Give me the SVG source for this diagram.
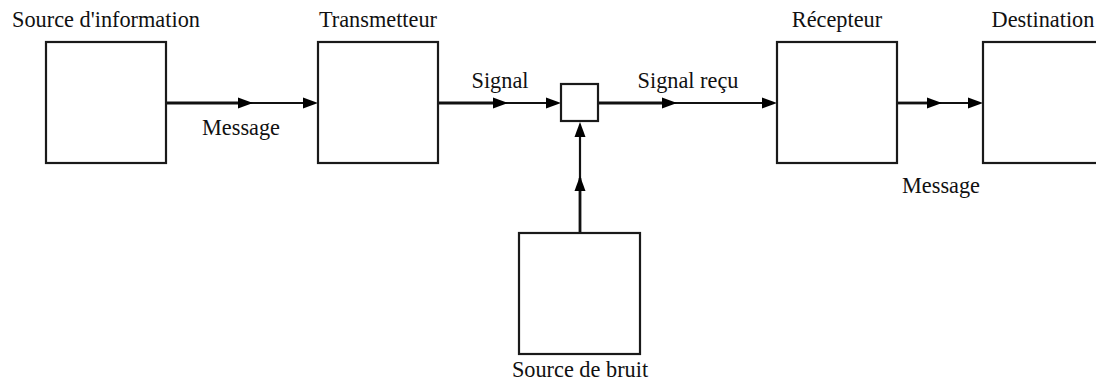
<svg xmlns="http://www.w3.org/2000/svg" xmlns:xlink="http://www.w3.org/1999/xlink" width="1096" height="389" viewBox="0 0 1096 389">
<style>
.box{fill:#fff;stroke:#1a1a1a;stroke-width:2.2}
.ln{stroke:#111;fill:none}
.thick{stroke-width:2.8}
.thin{stroke-width:2.2}
.ah{fill:#000}
text{font-family:"Liberation Serif","Times New Roman",serif;font-size:22.3px;fill:#111;text-anchor:middle}
</style>
<defs>
<path id="ah" d="M0,0 L-15,-5.5 L-15,5.5 Z"/>
</defs>
<rect width="1096" height="389" fill="#fff"/>
<g id="connectors">
<line class="ln thick" x1="166" y1="103" x2="240" y2="103"/>
<line class="ln thin" x1="240" y1="103" x2="304" y2="103"/>
<use xlink:href="#ah" class="ah" transform="translate(253,103)"/>
<use xlink:href="#ah" class="ah" transform="translate(318,103)"/>
<line class="ln thick" x1="438" y1="103" x2="495" y2="103"/>
<line class="ln thin" x1="495" y1="103" x2="547" y2="103"/>
<use xlink:href="#ah" class="ah" transform="translate(508,103)"/>
<use xlink:href="#ah" class="ah" transform="translate(561,103)"/>
<line class="ln thick" x1="598" y1="103" x2="664" y2="103"/>
<line class="ln thin" x1="664" y1="103" x2="763" y2="103"/>
<use xlink:href="#ah" class="ah" transform="translate(677,103)"/>
<use xlink:href="#ah" class="ah" transform="translate(777,103)"/>
<line class="ln thick" x1="897" y1="103" x2="929" y2="103"/>
<line class="ln thin" x1="929" y1="103" x2="969" y2="103"/>
<use xlink:href="#ah" class="ah" transform="translate(942,103)"/>
<use xlink:href="#ah" class="ah" transform="translate(983,103)"/>
<line class="ln thick" x1="580" y1="233" x2="580" y2="178"/>
<line class="ln thin" x1="580" y1="178" x2="580" y2="136"/>
<use xlink:href="#ah" class="ah" transform="translate(580,176) rotate(-90)"/>
<use xlink:href="#ah" class="ah" transform="translate(580,122) rotate(-90)"/>
<text x="241" y="135">Message</text>
<text x="500" y="88">Signal</text>
<text x="688" y="88">Signal reçu</text>
<text x="941" y="193">Message</text>
</g>
<g id="source">
<rect class="box" x="46" y="42" width="120" height="121"/>
<text x="106" y="27">Source d'information</text>
</g>
<g id="transmetteur">
<rect class="box" x="318" y="42" width="120" height="121"/>
<text x="378" y="27">Transmetteur</text>
</g>
<g id="canal">
<rect class="box" x="561" y="84" width="37" height="37"/>
</g>
<g id="recepteur">
<rect class="box" x="777" y="42" width="120" height="121"/>
<text x="837" y="27">Récepteur</text>
</g>
<g id="destination">
<rect class="box" x="983" y="42" width="120" height="121"/>
<text x="1043" y="27">Destination</text>
</g>
<g id="bruit">
<rect class="box" x="519" y="233" width="121" height="121"/>
<text x="580" y="377">Source de bruit</text>
</g>
</svg>
